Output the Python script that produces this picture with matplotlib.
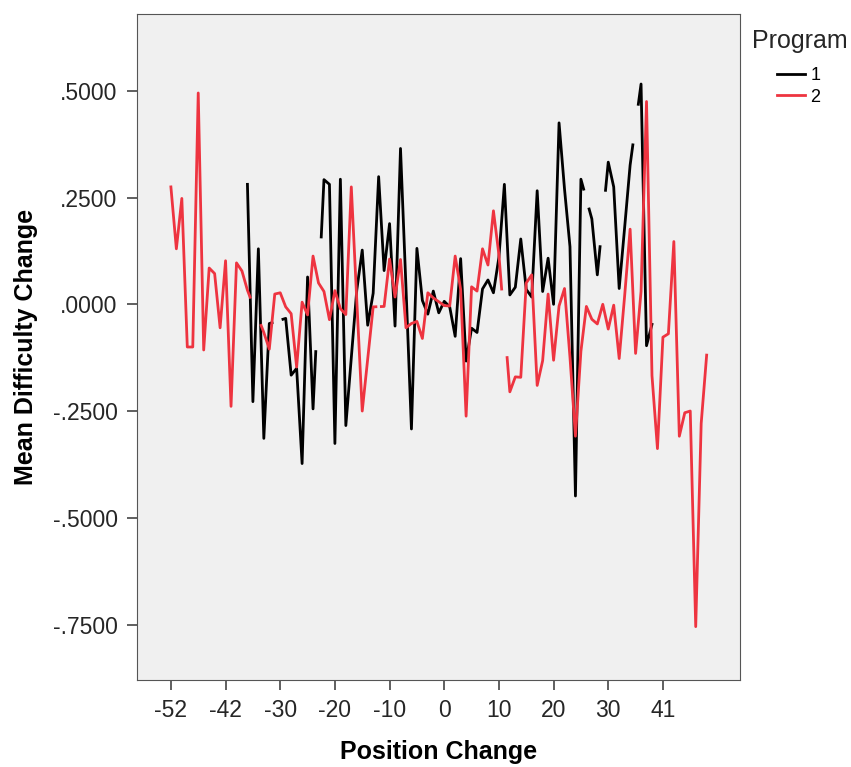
import numpy as np
import matplotlib.pyplot as plt

nan = np.nan

# mean difficulty change per position-change category (index 0 = -52)
program_1 = [
    nan, nan, nan, nan, nan, nan, nan, nan, nan, nan,
    nan, nan, nan, nan, 0.281, -0.228, 0.130, -0.314, -0.045, nan,
    nan, -0.033, -0.166, -0.150, -0.373, 0.064, -0.245, nan, 0.292, 0.281,
    -0.326, 0.293, -0.284, -0.125, 0.033, 0.127, -0.049, 0.026, 0.299, 0.079,
    0.189, -0.051, 0.365, 0.040, -0.292, 0.131, 0.009, -0.023, 0.031, -0.020,
    0.007, -0.006, -0.075, 0.107, -0.133, -0.056, -0.066, 0.036, 0.057, 0.027,
    0.110, 0.281, 0.022, 0.040, 0.153, 0.035, 0.017, 0.266, 0.030, 0.108,
    0.000, 0.425, 0.270, 0.135, -0.449, 0.293, nan, 0.200, 0.069, nan,
    0.333, 0.275, 0.037, 0.180, 0.326, nan, 0.516, -0.097, -0.047, nan,
    nan, nan, nan, nan, nan, nan, nan, nan, nan,
]
program_2 = [
    0.275, 0.130, 0.248, -0.100, -0.100, 0.495, -0.107, 0.085, 0.072, -0.055,
    0.102, -0.239, 0.097, 0.078, 0.033, nan, nan, -0.066, -0.105, 0.024,
    0.027, -0.006, -0.022, -0.147, 0.005, -0.025, 0.113, 0.050, 0.030, -0.036,
    0.032, -0.010, -0.024, 0.275, 0.010, -0.250, -0.128, -0.006, nan, -0.005,
    0.106, 0.017, 0.105, -0.055, -0.045, -0.040, -0.080, 0.027, 0.015, 0.006,
    -0.003, -0.004, 0.113, 0.035, -0.262, 0.041, 0.031, 0.130, 0.092, 0.219,
    0.116, nan, -0.205, -0.170, -0.171, 0.050, 0.069, -0.190, -0.132, 0.024,
    -0.131, -0.004, 0.037, -0.124, -0.309, -0.110, -0.005, -0.035, -0.046, 0.000,
    -0.058, -0.002, -0.127, 0.020, 0.176, -0.115, 0.030, 0.475, -0.167, -0.338,
    -0.077, -0.069, 0.147, -0.309, -0.254, -0.250, -0.755, -0.279, -0.119,
]
tick_labels = ["-52", "-42", "-30", "-20", "-10", "0", "10", "20", "30", "41"]
y_ticks = [0.5, 0.25, 0.0, -0.25, -0.5, -0.75]


def gap_line(values):
    # line broken around missing categories, like the SPSS output
    y = np.array(values, dtype=float)
    idx = np.flatnonzero(~np.isnan(y))
    xs, ys = [idx[0]], [y[idx[0]]]
    for a, b in zip(idx[:-1], idx[1:]):
        if b - a > 1:
            step = (y[b] - y[a]) / (b - a)
            xs += [a + 0.5, nan, b - 0.5]
            ys += [y[a] + 0.5 * step, nan, y[b] - 0.5 * step]
        xs.append(b)
        ys.append(y[b])
    return xs, ys


plt.rcParams['font.family'] = ['Liberation Sans', 'DejaVu Sans']

fig = plt.figure(figsize=(8.51, 7.67), dpi=100, facecolor="w")
ax = fig.add_axes([137 / 851, 87 / 767, 603 / 851, 666 / 767])
ax.set_facecolor("#f0f0f0")

x1, y1 = gap_line(program_1)
x2, y2 = gap_line(program_2)
ax.plot(x1, y1, color="black", lw=2.0, label="1")
ax.plot(x2, y2, color="#ee3440", lw=2.0, label="2")

ax.set_xlim(-6.2, 104.1)
ax.set_ylim(-0.88, 0.68)
ax.set_xticks(np.arange(len(tick_labels)) * 10)
ax.set_xticklabels(tick_labels)
ax.set_yticks(y_ticks)
ax.set_yticklabels([f"{v:.4f}".replace("0.", ".", 1) for v in y_ticks])

for s in ax.spines.values():
    s.set_color("#555555")
ax.tick_params(direction="out", length=7, width=1.2, color="#444444",
               labelsize=16.5, labelcolor="#262626", pad=7)

ax.set_xlabel("Position Change", fontsize=18, fontweight="bold")
ax.set_ylabel("Mean Difficulty Change", fontsize=18, fontweight="bold")
ax.xaxis.set_label_coords(0.5, -0.09)
ax.yaxis.set_label_coords(-0.165, 0.5)

fig.text(800 / 851, 1 - 41 / 767, "Program", ha="center", va="center",
         fontsize=18, color="#262626")
fig.legend(loc="upper left", bbox_to_anchor=(777 / 851, 1 - 67 / 767),
           frameon=False, fontsize=13, handlelength=1.55, handletextpad=0.3,
           labelspacing=0.25, borderpad=0, borderaxespad=0)

fig.savefig("out.png", dpi=100)
